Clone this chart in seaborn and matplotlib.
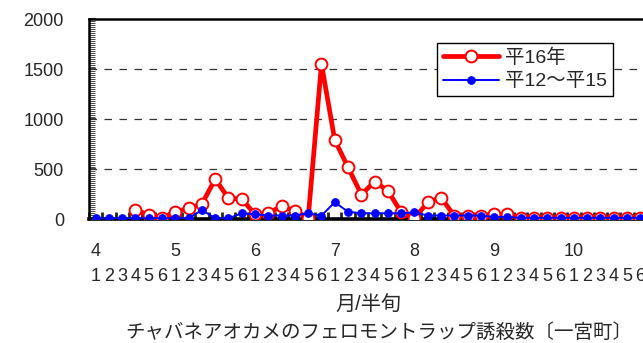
import numpy as np
import pandas as pd
import matplotlib
matplotlib.use("Agg")
import matplotlib.pyplot as plt
import matplotlib.transforms as mtransforms
import seaborn as sns

# half-decade (半旬) counts, April 1 .. October 6
months = ["4", "5", "6", "7", "8", "9", "10"]
hanjun = ["1", "2", "3", "4", "5", "6"]

h16 = [np.nan, np.nan, np.nan, 90, 40, 10,
       73, 107, 150, 400, 207, 200,
       47, 57, 130, 80, 10, 1550,
       790, 517, 245, 373, 283, 67,
       8, 167, 213, 33, 33, 33,
       47, 47, 10, 10, 10, 10,
       10, 10, 10, 10, 10, 10]
h12_15 = [7, 7, 7, 7, 7, 7,
          7, 7, 90, 7, 7, 57,
          47, 35, 35, 35, 57, 35,
          167, 73, 57, 57, 57, 57,
          67, 35, 35, 35, 35, 35,
          20, 20, 12, 12, 12, 12,
          12, 12, 12, 12, 12, 12]

x_labels = [d for m in months for d in hanjun]
df = pd.DataFrame({"idx": np.arange(len(x_labels)), "h16": h16, "h12_15": h12_15})

sns.set_style("ticks")
plt.rcParams["font.family"] = ["Liberation Sans", "Noto Sans CJK JP", "DejaVu Sans"]

W, H = 643, 343
fig = plt.figure(figsize=(W / 100, H / 100), dpi=100)
# axes: left spine at x=89px, zero line at y=219px, top at 19px; right side runs off the image
ax = fig.add_axes([89 / W, 1 - 219 / H, 41.9 * 13.3 / W, 200 / H])

ax.set_ylim(0, 2000)
ax.set_xlim(-0.45, 41.45)

for yv in [500, 1000, 1500]:
    ax.axhline(yv, color="#333333", lw=0.9, dashes=(6, 6), zorder=1)

sns.lineplot(data=df, x="idx", y="h16", ax=ax, color="#ff0000", lw=3.4,
             marker="o", markersize=8.5, markerfacecolor="white",
             markeredgecolor="#ff0000", markeredgewidth=1.4,
             label="平16年", zorder=3)
sns.lineplot(data=df, x="idx", y="h12_15", ax=ax, color="#0000ff", lw=1.4,
             marker="o", markersize=5.5, markerfacecolor="#0000ff",
             markeredgecolor="#0000ff", label="平12～平15", zorder=4)

# spines
for s in ["top", "left"]:
    ax.spines[s].set_linewidth(1.8)
ax.spines["bottom"].set_linewidth(2.6)
ax.spines["right"].set_visible(False)
for s in ax.spines.values():
    s.set_color("black")

# y axis
ax.set_yticks([0, 500, 1000, 1500, 2000])
ax.set_yticks(np.arange(0, 2001, 20), minor=True)
ax.tick_params(axis="y", which="major", direction="in", length=5, width=1.2,
               labelsize=13, pad=18)
ax.tick_params(axis="y", which="minor", direction="in", length=4, width=0.6)
ax.set_ylabel("")

# x axis: digits as tick labels, visible ticks between categories
ax.set_xticks(np.arange(len(x_labels)))
ax.set_xticklabels(x_labels)
ax.set_xticks(np.arange(len(x_labels)) - 0.5, minor=True)
ax.tick_params(axis="x", which="major", length=0, labelsize=13, pad=35)
ax.tick_params(axis="x", which="minor", direction="in", length=5, width=2)
ax.set_xlabel("")

trans = mtransforms.blended_transform_factory(ax.transData, fig.transFigure)
for i, m in enumerate(months):
    ax.text(i * 6, 1 - 251 / H, m, transform=trans, ha="center", va="center",
            fontsize=13, clip_on=False)

fig.text(368 / W, 1 - 305 / H, "月/半旬", ha="center", va="center", fontsize=14.5)
fig.text(379 / W, 1 - 333 / H, "チャバネアオカメのフェロモントラップ誘殺数〔一宮町〕",
         ha="center", va="center", fontsize=14)

leg = ax.legend(loc="upper left", bbox_to_anchor=(437 / W, 1 - 42.7 / H),
                bbox_transform=fig.transFigure, borderaxespad=0, fancybox=False,
                framealpha=1, edgecolor="black", fontsize=14, handlelength=2.9,
                borderpad=0.3, labelspacing=0.3, handletextpad=0.3)
leg.get_frame().set_linewidth(1.0)

fig.savefig("out.png", dpi=100)
